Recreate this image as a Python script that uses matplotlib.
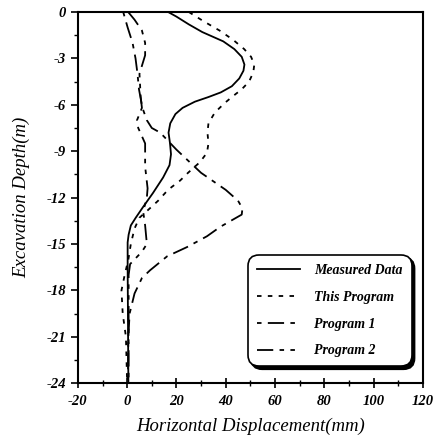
import numpy as np
import matplotlib
matplotlib.use('Agg')
import matplotlib.pyplot as plt
from matplotlib.ticker import MultipleLocator

# values (displacement in mm, depth in m)
measured_depth = [0, -0.3, -0.8, -1.3, -1.9, -2.4, -2.9, -3.4, -3.8, -4.3, -4.8, -5.2,
                  -5.5, -5.8, -6.2, -6.6, -7.2, -7.8, -8.5, -9.2, -9.9, -10.7, -11.7,
                  -12.6, -13.3, -13.8, -14.4, -14.9, -16.4, -24]
measured = [16.6, 20, 25, 30.5, 39, 43.5, 46.5, 47.6, 47.2, 45.5, 42.5, 38,
            33, 27.5, 22.5, 19.6, 17.5, 16.8, 17.4, 17.8, 17.2, 14.6, 10.5,
            6.5, 3.5, 1.5, 0.6, 0.2, 0.2, 0.5]

this_depth = [0, -0.6, -1.2, -1.8, -2.4, -2.9, -3.4, -3.9, -4.5, -5.0, -5.5, -5.9,
              -6.5, -7.2, -7.8, -8.5, -9.1, -9.7, -10.4, -10.9, -11.5, -12.2, -12.8,
              -13.3, -14, -15, -16, -17, -18, -19.5, -21, -24]
this_program = [25, 31, 37.5, 43, 47.5, 50.3, 51.6, 51.2, 49.5, 46.5, 42.5, 39.5,
                35.6, 33, 32.6, 33, 32.4, 29.6, 24.7, 21.5, 16.6, 12.6, 8.5,
                5, 3, 1.5, 0.5, -1, -2.3, -1.8, -0.5, 0]

p1_depth = [0, -1, -2, -3, -4, -5, -6.2, -7.0, -7.5, -7.8, -8.9, -10.4, -11.5,
            -12.2, -12.7, -13.1, -13.9, -14.5, -15.2, -15.8, -16.7, -17.2, -18.2,
            -19.5, -21, -24]
program1 = [-1.6, 0.2, 2.2, 3.4, 4.2, 4.8, 6.2, 8, 10, 13.4, 20, 30, 40,
            45, 46.8, 46.5, 37.7, 32.4, 24.3, 16.2, 9.3, 6, 3, 1, 0.5, 0.3]

p2_depth = [0, -0.5, -1.2, -2.0, -2.8, -4.0, -5.5, -6.2, -7.0, -7.5, -8.5, -10,
            -11.4, -12.0, -12.9, -13.8, -15.0, -15.5, -16.3, -17, -24]
program2 = [0.4, 3, 6, 7.3, 7.3, 5, 5.5, 6, 4, 4.5, 7.3, 7.3,
            8.3, 8, 6.5, 7.3, 8, 6, 1.2, 0.6, 0.6]

plt.rcParams['font.family'] = ['Liberation Serif', 'DejaVu Serif']
plt.rcParams['axes.unicode_minus'] = False

fig = plt.figure(figsize=(4.35, 4.43), dpi=100)
ax = fig.add_axes([0.179, 0.135, 0.793, 0.838])

lw = 1.3
ax.plot(measured, measured_depth, color='black', lw=lw, label='Measured Data')
ax.plot(this_program, this_depth, color='black', lw=lw,
        dashes=(2.5, 3.5), label='This Program')
ax.plot(program1, p1_depth, color='black', lw=lw,
        dashes=(2.5, 3.5, 9, 3.5), label='Program 1')
ax.plot(program2, p2_depth, color='black', lw=lw,
        dashes=(9, 3.5, 2.5, 3.5, 2.5, 3.5), label='Program 2')

ax.set_xlim(-20, 120)
ax.set_ylim(-24, 0)
ax.xaxis.set_major_locator(MultipleLocator(20))
ax.xaxis.set_minor_locator(MultipleLocator(10))
ax.yaxis.set_major_locator(MultipleLocator(3))
ax.yaxis.set_minor_locator(MultipleLocator(1.5))
ax.tick_params(axis='x', which='major', direction='inout', length=7, width=1.2, pad=5)
ax.tick_params(axis='x', which='minor', direction='inout', length=4, width=1)
ax.tick_params(axis='y', which='major', direction='out', length=5, width=1.2)
ax.tick_params(axis='y', which='minor', direction='out', length=3, width=1)
ax.tick_params(top=False, right=False)
for sp in ax.spines.values():
    sp.set_linewidth(1.5)

for lab in ax.get_xticklabels() + ax.get_yticklabels():
    lab.set_fontstyle('italic')
    lab.set_fontweight('bold')
    lab.set_fontsize(10.5)

ax.set_xlabel('Horizontal Displacement(mm)', fontsize=13.5, fontstyle='italic',
              labelpad=7)
ax.set_ylabel('Excavation Depth(m)', fontsize=13.5, fontstyle='italic',
              labelpad=12)

leg = ax.legend(loc='lower right', bbox_to_anchor=(0.968, 0.045), borderaxespad=0,
                prop={'style': 'italic', 'weight': 'bold', 'size': 10},
                frameon=True, fancybox=True,
                shadow={'color': 'black', 'alpha': 1, 'ox': 2, 'oy': -2},
                handlelength=3.1, labelspacing=1.0, borderpad=0.65,
                handletextpad=1.0)
leg.get_frame().set_edgecolor('black')
leg.get_frame().set_linewidth(1.2)
leg.get_frame().set_alpha(1)
leg.get_frame().set_boxstyle('round', pad=0, rounding_size=0.8)

fig.savefig('out.png', dpi=100)
